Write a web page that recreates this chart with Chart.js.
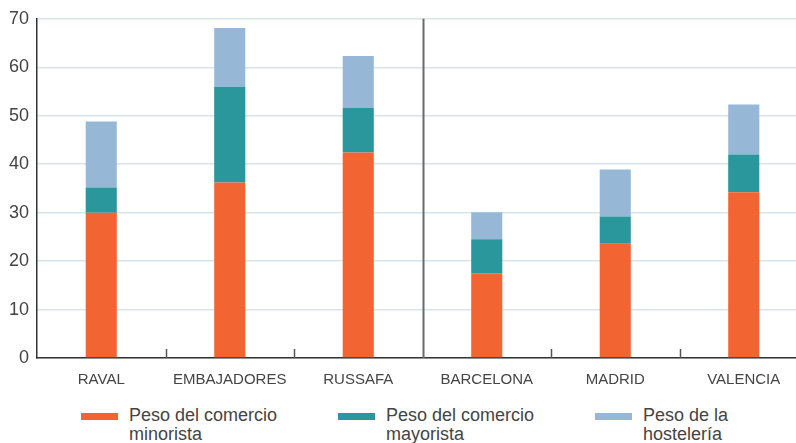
<!DOCTYPE html>
<html>
<head>
<meta charset="utf-8">
<script src="https://cdn.jsdelivr.net/npm/chart.js@4.4.1/dist/chart.umd.min.js"></script>
<style>
  html, body { margin: 0; padding: 0; background: #fff; overflow: hidden; width: 796px; height: 443px; }
  #caja { position: absolute; left: 0; top: 0; width: 808px; height: 392px; }
  #leyenda { position: absolute; left: 0; top: 406px; width: 796px; height: 37px;
    font-family: 'Liberation Sans', Arial, sans-serif;
    font-size: 18px; line-height: 19px; color: #444; }
  .item { position: absolute; top: 0; }
  .item .marca { position: absolute; left: 0; top: 7px; width: 37px; height: 7px; }
  .item .texto { position: absolute; left: 48px; top: 0; white-space: nowrap; }
</style>
</head>
<body>
<div id="caja"><canvas id="grafico"></canvas></div>
<div id="leyenda"></div>
<script>
var zonas = ['RAVAL', 'EMBAJADORES', 'RUSSAFA', 'BARCELONA', 'MADRID', 'VALENCIA'];
var minorista = [30.0, 36.2, 42.4, 17.5, 23.6, 34.2];
var mayorista = [5.2, 19.8, 9.2, 7.0, 5.6, 7.8];
var hosteleria = [13.6, 12.1, 10.7, 5.6, 9.7, 10.3];
var nombres = [
  ['Peso del comercio', 'minorista'],
  ['Peso del comercio', 'mayorista'],
  ['Peso de la', 'hostelería']
];
var colores = ['#f26532', '#29979b', '#96b8d6'];
var ticksY = [0, 10, 20, 30, 40, 50, 60, 70];

// marcas cortas entre categorías y línea que separa barrios de ciudades
var separadores = {
  id: 'separadores',
  afterDatasetsDraw: function(chart) {
    var x = chart.scales.x, area = chart.chartArea, ctx = chart.ctx;
    ctx.save();
    for (var i = 0; i < zonas.length - 1; i++) {
      var px = Math.round((x.getPixelForValue(i) + x.getPixelForValue(i + 1)) / 2) + 0.5;
      ctx.beginPath();
      if (i === 2) {
        ctx.strokeStyle = '#6b6b6b';
        ctx.lineWidth = 2;
        ctx.moveTo(px, area.top);
      } else {
        ctx.strokeStyle = '#555';
        ctx.lineWidth = 1.5;
        ctx.moveTo(px, area.bottom - 9);
      }
      ctx.lineTo(px, area.bottom);
      ctx.stroke();
    }
    ctx.restore();
  }
};

var datos = [minorista, mayorista, hosteleria];
var grafico = new Chart(document.getElementById('grafico').getContext('2d'), {
  type: 'bar',
  data: {
    labels: zonas,
    datasets: datos.map(function(valores, i) {
      return {
        label: nombres[i].join(' '),
        data: valores,
        backgroundColor: colores[i],
        borderWidth: 0,
        barPercentage: 0.242,
        categoryPercentage: 1
      };
    })
  },
  options: {
    responsive: true,
    maintainAspectRatio: false,
    animation: false,
    layout: { padding: { top: 10, right: 0, left: 0, bottom: 0 } },
    plugins: { legend: { display: false }, tooltip: { enabled: false } },
    scales: {
      x: {
        stacked: true,
        grid: { display: false },
        border: { color: '#333', width: 1.5 },
        ticks: { color: '#444', padding: 5, maxRotation: 0, autoSkip: false,
          font: { family: "'Liberation Sans', Arial, sans-serif", size: 15 } },
        afterFit: function(scale) { scale.height = 34; }
      },
      y: {
        stacked: true,
        min: 0,
        max: 70,
        afterBuildTicks: function(scale) {
          scale.ticks = ticksY.map(function(v) { return { value: v }; });
        },
        grid: { color: '#d6e5e9', lineWidth: 1.5, drawTicks: false },
        border: { color: '#333', width: 1.5 },
        ticks: { color: '#444', padding: 8, font: { family: "'Liberation Sans', Arial, sans-serif", size: 18 } },
        afterFit: function(scale) { scale.width = 37; }
      }
    }
  },
  plugins: [separadores]
});

// leyenda en HTML, a partir de los mismos nombres y colores
var leyenda = document.getElementById('leyenda');
var posiciones = [81, 338, 595];
nombres.forEach(function(lineas, i) {
  var item = document.createElement('div');
  item.className = 'item';
  item.style.left = posiciones[i] + 'px';
  var marca = document.createElement('div');
  marca.className = 'marca';
  marca.style.background = colores[i];
  var texto = document.createElement('div');
  texto.className = 'texto';
  texto.innerHTML = lineas.join('<br>');
  item.appendChild(marca);
  item.appendChild(texto);
  leyenda.appendChild(item);
});
</script>
</body>
</html>
